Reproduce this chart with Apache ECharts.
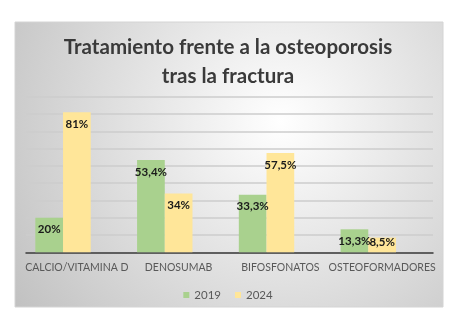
<!DOCTYPE html>
<html>
<head>
<meta charset="utf-8">
<script src="https://cdn.jsdelivr.net/npm/echarts@6/dist/echarts.min.js"></script>
<style>html,body{margin:0;padding:0;background:#fff;}#c{width:456px;height:325px;}</style>
</head>
<body>
<div id="c"></div>
<script>
var categories = ['CALCIO/VITAMINA D', 'DENOSUMAB', 'BIFOSFONATOS', 'OSTEOFORMADORES'];
var values2019 = [20, 53.4, 33.3, 13.3];
var values2024 = [81, 34, 57.5, 8.5];
var seriesNames = ['2019', '2024'];
var titleText = 'Tratamiento frente a la osteoporosis\ntras la fractura';

var FONT = 'Lato, "Open Sans", sans-serif';
function fmt(p) { return String(p.value).replace('.', ',') + '%'; }
function build(vals) {
  return vals.map(function (v) {
    if (v < 10) return { value: v, label: { position: 'insideBottom', distance: 4 } };
    return v;
  });
}
var labelCfg = { show: true, position: 'insideTop', distance: 6, formatter: fmt,
  fontFamily: FONT, fontWeight: 'bold', fontSize: 11.5, color: '#1a1a1a' };

var chart = echarts.init(document.getElementById('c'), null, { renderer: 'canvas' });
chart.setOption({
  animation: false,
  backgroundColor: '#ffffff',
  graphic: [{
    type: 'rect', z: -10, silent: true,
    shape: { x: 15, y: 22, width: 428, height: 285 },
    style: {
      fill: new echarts.graphic.RadialGradient(0.62, 0.35, 1.15, [
        { offset: 0, color: '#ffffff' },
        { offset: 1, color: '#c0c0c0' }
      ]),
      stroke: '#d4d4d4', lineWidth: 1
    }
  }],
  title: {
    text: titleText, left: 'center', top: 28,
    textStyle: { fontFamily: FONT, fontWeight: 'bold', fontSize: 20.5, lineHeight: 29, color: '#3a3a3a' }
  },
  legend: {
    data: seriesNames, left: 'center', top: 284, itemWidth: 6, itemHeight: 6, itemGap: 14,
    icon: 'rect',
    textStyle: { fontFamily: FONT, fontSize: 11.5, color: '#595959' }
  },
  grid: { left: 26, right: 23, top: 96.7, bottom: 72.7 },
  xAxis: {
    type: 'category', data: categories,
    axisLine: { lineStyle: { color: '#3a3a3a', width: 1.5 } },
    axisTick: { show: false },
    axisLabel: { fontFamily: FONT, fontSize: 10.5, color: '#595959', margin: 10, interval: 0 }
  },
  yAxis: {
    type: 'value', min: 0, max: 90, interval: 10,
    axisLabel: { show: false }, axisLine: { show: false }, axisTick: { show: false },
    splitLine: { lineStyle: { color: '#cdcdcd', width: 1.5 } }
  },
  series: [
    { name: seriesNames[0], type: 'bar', data: build(values2019), barWidth: 27.7, barGap: '0%',
      itemStyle: { color: '#a9d18e' }, label: labelCfg },
    { name: seriesNames[1], type: 'bar', data: build(values2024), barWidth: 27.7, barGap: '0%',
      itemStyle: { color: '#ffe699' }, label: labelCfg },
    { name: 'spacer', type: 'bar', data: [null, null, null, null], barWidth: 27.7, barGap: '0%', silent: true }
  ]
});
</script>
</body>
</html>
